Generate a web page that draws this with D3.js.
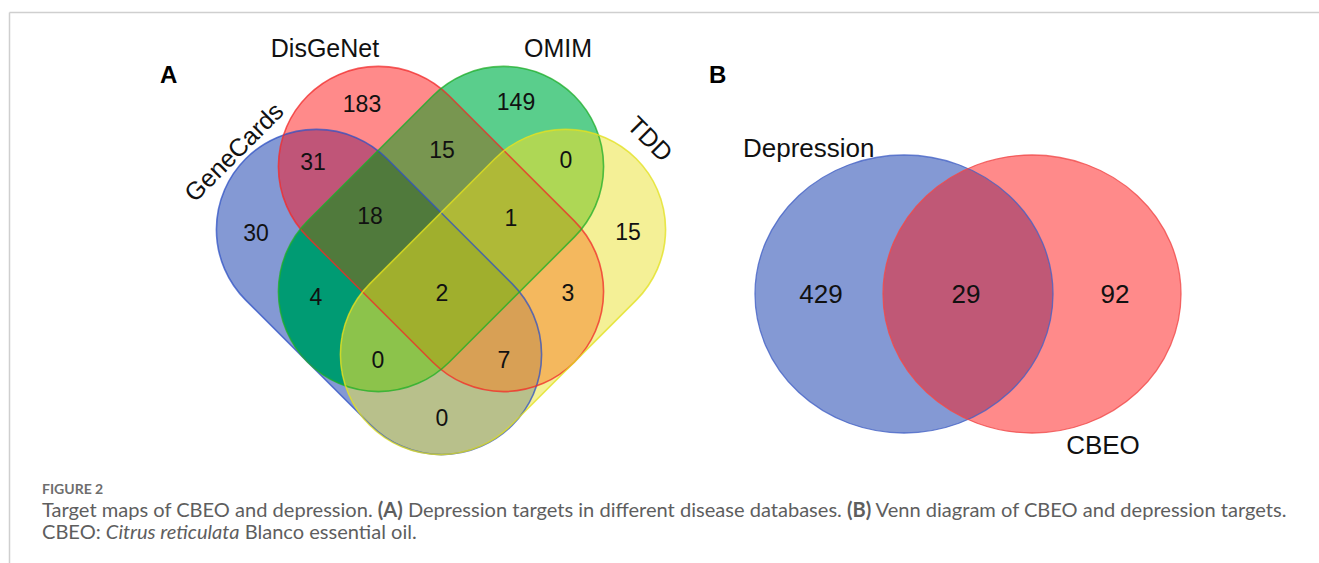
<!DOCTYPE html>
<html>
<head>
<meta charset="utf-8">
<script src="https://d3js.org/d3.v7.min.js"></script>
<style>
  body { margin: 0; background: #fff; }
  svg { display: block; }
</style>
</head>
<body>
<div id="chart"></div>
<script>
const svgWidth = 1319;
const svgHeight = 563;

// panel A: four disease databases
const setsA = ["GeneCards", "DisGeNet", "OMIM", "TDD"];
const regionsA = [[0], [1], [2], [3], [0, 1], [0, 2], [0, 3], [1, 2], [1, 3], [2, 3],
  [0, 1, 2], [0, 1, 3], [0, 2, 3], [1, 2, 3], [0, 1, 2, 3]];
const countsA = [30, 183, 149, 15, 31, 4, 0, 15, 3, 0, 18, 7, 0, 1, 2];

// panel B: depression vs CBEO targets
const setsB = ["Depression", "CBEO"];
const regionsB = [[0], [1], [0, 1]];
const countsB = [429, 92, 29];

// styling, one colour per region (painted, not blended)
const fillA = ["#8499d4", "#ff8a8a", "#5ace8c", "#f4f096", "#c05578", "#009b73", "#b8c08b",
  "#789650", "#f4b85e", "#aed755", "#507a3c", "#d8a055", "#8cc34b", "#afb937", "#a0af2d"];
const strokeA = ["#2f52c4", "#f02a2a", "#1fae2a", "#e2e01c"];
const fillB = ["#8499d4", "#ff8a8a", "#c05876"];
const strokeB = ["#4462c6", "#f04848"];

// layout in units of the cap radius
const shapesA = [
  { cx: -0.62, cy: 0.63, angle: 45 },
  { cx: 0, cy: 0, angle: 45 },
  { cx: 0, cy: 0, angle: -45 },
  { cx: 0.62, cy: 0.63, angle: -45 }
];
const halfLen = 0.885;
const labelPosA = [[-1.85, 0.04], [-0.79, -1.25], [0.75, -1.27], [1.87, 0.03], [-1.28, -0.67],
  [-1.25, 0.68], [0.01, 1.89], [0.01, -0.79], [1.27, 0.64], [1.25, -0.69], [-0.71, -0.13],
  [0.63, 1.31], [-0.63, 1.31], [0.7, -0.11], [0.01, 0.64]];
const setLabelA = [
  { x: -2.01, y: -0.71, rot: -45 },
  { x: -1.16, y: -1.72, rot: 0 },
  { x: 1.17, y: -1.72, rot: 0 },
  { x: 2.03, y: -0.84, rot: 45 }
];

var xA = d3.scaleLinear().domain([0, 1]).range([441, 541]);
var yA = d3.scaleLinear().domain([0, 1]).range([229, 329]);
var rA = xA(1) - xA(0);

var svg = d3.select("#chart")
  .append("svg")
  .attr("width", svgWidth)
  .attr("height", svgHeight);

// frame lines
svg.append("line").attr("x1", 9.5).attr("x2", svgWidth).attr("y1", 12.5).attr("y2", 12.5)
  .attr("stroke", "#cfcfcf").attr("stroke-width", 1.5);
svg.append("line").attr("x1", 9.5).attr("x2", 9.5).attr("y1", 12.5).attr("y2", svgHeight)
  .attr("stroke", "#cfcfcf").attr("stroke-width", 1.5);

var defs = svg.append("defs");

function capsule(sel, s) {
  return sel.append("rect")
    .attr("x", -(halfLen + 1) * rA)
    .attr("y", -rA)
    .attr("width", 2 * (halfLen + 1) * rA)
    .attr("height", 2 * rA)
    .attr("rx", rA)
    .attr("ry", rA)
    .attr("transform", `translate(${xA(s.cx)},${yA(s.cy)}) rotate(${s.angle})`);
}

shapesA.forEach(function(s, i) {
  capsule(defs.append("clipPath").attr("id", "clipA" + i), s);
});

// paint regions: larger intersections painted over smaller ones
var chartA = svg.append("g");
var order = d3.range(regionsA.length).sort((a, b) => regionsA[a].length - regionsA[b].length || a - b);
order.forEach(function(k) {
  var sets = regionsA[k];
  var g = chartA;
  sets.slice(1).forEach(function(j) {
    g = g.append("g").attr("clip-path", `url(#clipA${j})`);
  });
  capsule(g, shapesA[sets[0]]).attr("fill", fillA[k]);
});

// outlines
shapesA.forEach(function(s, i) {
  capsule(chartA, s)
    .attr("fill", "none")
    .attr("stroke", strokeA[i])
    .attr("stroke-width", 1.6)
    .attr("stroke-opacity", 0.75);
});

chartA.selectAll("text.count")
  .data(countsA)
  .enter()
  .append("text")
  .attr("class", "count")
  .attr("x", (d, i) => xA(labelPosA[i][0]))
  .attr("y", (d, i) => yA(labelPosA[i][1]))
  .attr("dy", "0.36em")
  .attr("text-anchor", "middle")
  .style("font-family", "'Liberation Sans', Arial, sans-serif")
  .style("font-size", "23px")
  .style("fill", "#111")
  .text(d => d);

chartA.selectAll("text.setname")
  .data(setsA)
  .enter()
  .append("text")
  .attr("class", "setname")
  .attr("text-anchor", "middle")
  .attr("transform", (d, i) => `translate(${xA(setLabelA[i].x)},${yA(setLabelA[i].y)}) rotate(${setLabelA[i].rot})`)
  .style("font-family", "'Liberation Sans', Arial, sans-serif")
  .style("font-size", "25px")
  .style("fill", "#111")
  .text(d => d);

// panel B
const ellipsesB = [{ cx: 904, cy: 294 }, { cx: 1032, cy: 294 }];
const rxB = 149, ryB = 139;
var xB = d3.scaleLinear().domain([0, 1]).range([0, 1]);

ellipsesB.forEach(function(e, i) {
  defs.append("clipPath").attr("id", "clipB" + i)
    .append("ellipse")
    .attr("cx", xB(e.cx)).attr("cy", e.cy).attr("rx", rxB).attr("ry", ryB);
});

var chartB = svg.append("g");
regionsB.forEach(function(sets, k) {
  var g = chartB;
  sets.slice(1).forEach(function(j) {
    g = g.append("g").attr("clip-path", `url(#clipB${j})`);
  });
  var e = ellipsesB[sets[0]];
  g.append("ellipse")
    .attr("cx", xB(e.cx)).attr("cy", e.cy).attr("rx", rxB).attr("ry", ryB)
    .attr("fill", fillB[k]);
});
ellipsesB.forEach(function(e, i) {
  chartB.append("ellipse")
    .attr("cx", xB(e.cx)).attr("cy", e.cy).attr("rx", rxB).attr("ry", ryB)
    .attr("fill", "none")
    .attr("stroke", strokeB[i])
    .attr("stroke-width", 1.3)
    .attr("stroke-opacity", 0.8);
});

const countPosB = [821, 1115, 966];
chartB.selectAll("text.count")
  .data(countsB)
  .enter()
  .append("text")
  .attr("x", (d, i) => countPosB[i])
  .attr("y", 294)
  .attr("dy", "0.36em")
  .attr("text-anchor", "middle")
  .style("font-family", "'Liberation Sans', Arial, sans-serif")
  .style("font-size", "26px")
  .style("fill", "#111")
  .text(d => d);

const setLabelB = [{ x: 743, y: 157, anchor: "start" }, { x: 1103, y: 454, anchor: "middle" }];
chartB.selectAll("text.setname")
  .data(setsB)
  .enter()
  .append("text")
  .attr("x", (d, i) => setLabelB[i].x)
  .attr("y", (d, i) => setLabelB[i].y)
  .attr("text-anchor", (d, i) => setLabelB[i].anchor)
  .style("font-family", "'Liberation Sans', Arial, sans-serif")
  .style("font-size", "26px")
  .style("fill", "#111")
  .text(d => d);

// panel letters
[["A", 160], ["B", 709]].forEach(function(p) {
  svg.append("text")
    .attr("x", p[1]).attr("y", 83)
    .style("font-family", "'Liberation Sans', Arial, sans-serif")
    .style("font-weight", "bold")
    .style("font-size", "24px")
    .style("fill", "#000")
    .text(p[0]);
});

// caption
var capFont = "Lato, 'Open Sans', sans-serif";
svg.append("text")
  .attr("x", 42).attr("y", 494)
  .style("font-family", capFont)
  .style("font-size", "14px")
  .style("font-weight", "bold")
  .style("fill", "#6e6e6e")
  .text("FIGURE 2");

var line1 = svg.append("text")
  .attr("x", 42).attr("y", 517)
  .style("font-family", capFont)
  .style("font-size", "17px")
  .style("fill", "#5e5e5e");
line1.append("tspan").text("Target maps of CBEO and depression. ");
line1.append("tspan").style("font-weight", "bold").text("(A)");
line1.append("tspan").text(" Depression targets in different disease databases. ");
line1.append("tspan").style("font-weight", "bold").text("(B)");
line1.append("tspan").text(" Venn diagram of CBEO and depression targets.");

var line2 = svg.append("text")
  .attr("x", 42).attr("y", 539)
  .style("font-family", capFont)
  .style("font-size", "17px")
  .style("fill", "#5e5e5e");
line2.append("tspan").text("CBEO: ");
line2.append("tspan").style("font-style", "italic").text("Citrus reticulata");
line2.append("tspan").text(" Blanco essential oil.");

// fit caption width to the figure
var w1 = line1.node().getComputedTextLength();
var fs = 17 * 1245 / w1;
line1.style("font-size", fs + "px");
line2.style("font-size", fs + "px");
</script>
</body>
</html>
